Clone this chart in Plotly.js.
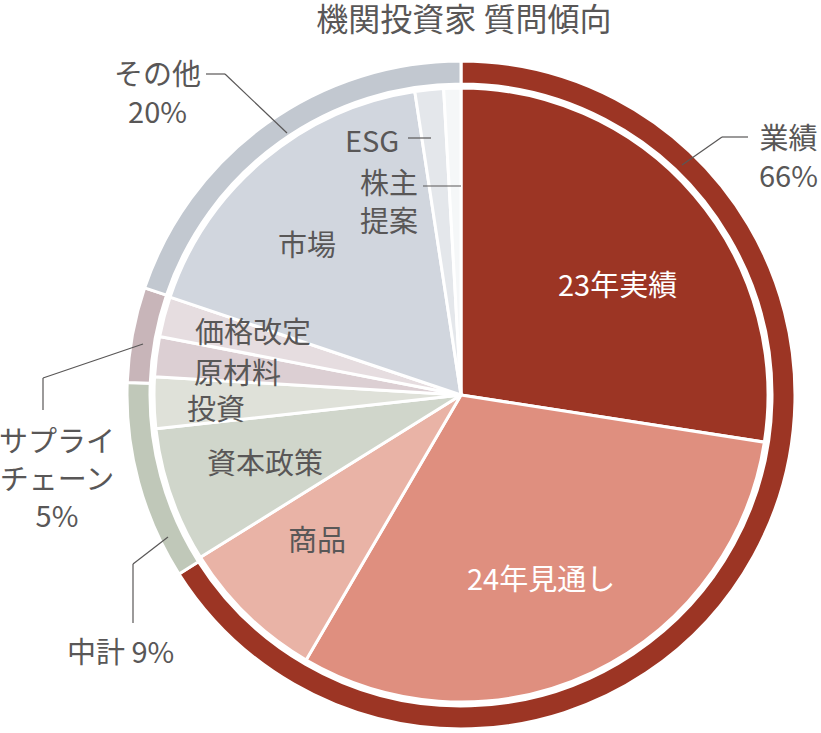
<!DOCTYPE html>
<html>
<head>
<meta charset="utf-8">
<script src="https://cdn.plot.ly/plotly-3.0.1.min.js"></script>
<style>html,body{margin:0;padding:0;background:#fff;}#chart{width:821px;height:733px;}</style>
</head>
<body>
<div id="chart"></div>
<script>
// Data
var groupLabels = ["業績", "中計", "サプライチェーン", "その他"];
var groupValues = [66, 9.6, 4.6, 19.8];
var groupText = ["業績<br>66%", "中計 9%", "サプライ<br>チェーン<br>5%", "その他<br>20%"];
var groupColors = ["#9c3524", "#c0c8b9", "#c8b5b9", "#c2c8d0"];

var itemLabels = ["23年実績", "24年見通し", "商品", "資本政策", "投資", "原材料", "価格改定", "市場", "ESG", "株主提案"];
var itemValues = [27.4, 30.9, 7.7, 7.1, 2.7, 2.1, 2.1, 17.4, 1.5, 0.9];
var itemColors = ["#9c3524", "#df8f7f", "#e9b3a6", "#d0d6cb", "#dfe1d9", "#dccfd3", "#e6dde0", "#d1d6de", "#e4e7eb", "#f5f7f8"];
var itemTextColors = ["#ffffff", "#ffffff", "#595757", "#595757", "#595757", "#595757", "#595757", "#595757", "#595757", "#595757"];

var W = 821, H = 733;
var cx = 461, cy = 395, rOuter = 334, rInner = 307, rHoleInner = 311;
function px(x) { return x / W; }
function py(y) { return 1 - y / H; }

var FONT = "Noto Sans CJK JP, Noto Sans CJK SC, sans-serif";
var GREY = "#595757";

var outer = {
  type: "pie",
  labels: groupLabels,
  values: groupValues,
  sort: false,
  direction: "clockwise",
  rotation: 0,
  hole: rHoleInner / rOuter,
  marker: { colors: groupColors, line: { color: "#ffffff", width: 3 } },
  textinfo: "none",
  hoverinfo: "label+percent",
  domain: { x: [px(cx - rOuter), px(cx + rOuter)], y: [py(cy + rOuter), py(cy - rOuter)] },
  showlegend: false
};

var inner = {
  type: "pie",
  labels: itemLabels,
  values: itemValues,
  sort: false,
  direction: "clockwise",
  rotation: 0,
  marker: { colors: itemColors, line: { color: "#ffffff", width: 3 } },
  textinfo: "none",
  hoverinfo: "label+percent",
  domain: { x: [px(cx - rInner), px(cx + rInner)], y: [py(cy + rInner), py(cy - rInner)] },
  showlegend: false
};

// label positions (pixels)
var itemPos = [[617, 283], [541, 577], [317, 538], [265, 461], [216, 407], [237, 371], [253, 330], [307, 243], [372, 139], [389, 200]];
var itemDisplay = ["23年実績", "24年見通し", "商品", "資本政策", "投資", "原材料", "価格改定", "市場", "ESG", "株主<br>提案"];
var groupPos = [[788, 155], [120, 650], [57, 476], [157, 91]];

var annotations = [];
for (var i = 0; i < itemLabels.length; i++) {
  annotations.push({
    xref: "paper", yref: "paper", x: px(itemPos[i][0]), y: py(itemPos[i][1]),
    xanchor: "center", yanchor: "middle", showarrow: false,
    text: itemDisplay[i],
    font: { family: FONT, size: 29, color: itemTextColors[i] }
  });
}
for (var j = 0; j < groupLabels.length; j++) {
  annotations.push({
    xref: "paper", yref: "paper", x: px(groupPos[j][0]), y: py(groupPos[j][1]),
    xanchor: "center", yanchor: "middle", showarrow: false,
    text: groupText[j],
    font: { family: FONT, size: 29, color: GREY }
  });
}

function seg(x0, y0, x1, y1) {
  return { type: "line", xref: "paper", yref: "paper", x0: px(x0), y0: py(y0), x1: px(x1), y1: py(y1),
    line: { color: GREY, width: 1.2 } };
}
var shapes = [
  seg(748, 137, 722, 137), seg(722, 137, 682, 165),
  seg(206, 74, 225, 74), seg(225, 74, 287, 133),
  seg(408, 138, 431, 138),
  seg(423, 186, 461, 186),
  seg(143, 344, 43, 378), seg(43, 378, 43, 410),
  seg(168, 537, 133, 564), seg(133, 564, 133, 623)
];

var layout = {
  width: W, height: H,
  margin: { l: 0, r: 0, t: 0, b: 0 },
  paper_bgcolor: "#ffffff",
  title: { text: "機関投資家 質問傾向", x: 0.565, xanchor: "center", y: 1 - 20 / H, yanchor: "middle",
    font: { family: FONT, size: 32, color: GREY } },
  annotations: annotations,
  shapes: shapes,
  showlegend: false
};

Plotly.newPlot("chart", [outer, inner], layout, { displayModeBar: false });
</script>
</body>
</html>
